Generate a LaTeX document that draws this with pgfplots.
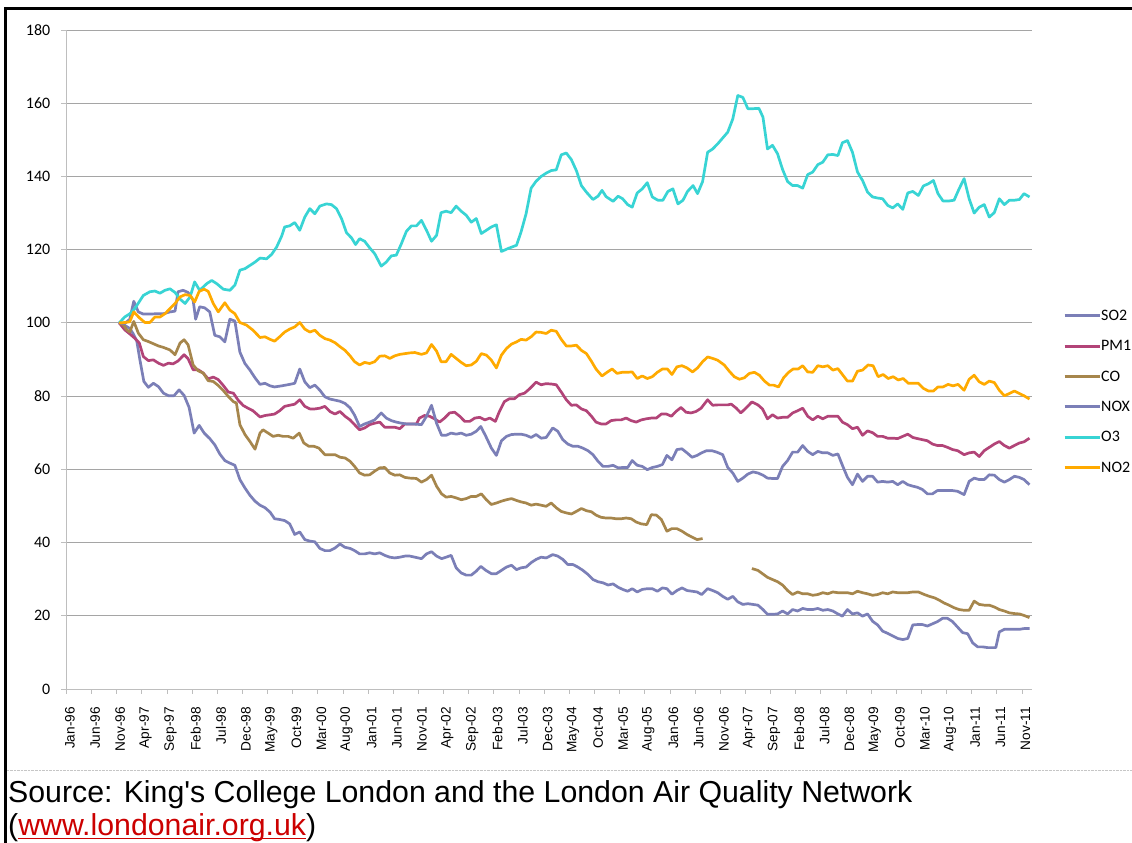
\documentclass[border=0pt]{standalone}
\usepackage{fontspec}
\setmainfont{Carlito}
\newfontfamily\arialfont{Liberation Sans}
\usepackage{pgfplots}
\pgfplotsset{compat=1.18}
\definecolor{cSO}{RGB}{123,127,183}
\definecolor{cPM}{RGB}{178,68,120}
\definecolor{cCO}{RGB}{166,134,76}
\definecolor{cO3}{RGB}{56,212,212}
\definecolor{cNO}{RGB}{255,170,0}
\definecolor{gridc}{RGB}{165,165,165}
\definecolor{axc}{RGB}{190,190,190}
\definecolor{linkred}{RGB}{204,0,0}
\begin{document}
\begin{tikzpicture}[x=1bp,y=1bp]
\useasboundingbox (0,0) rectangle (1132,843);
\fill[white] (0,0) rectangle (1132,843);
\draw[line width=3bp] (5.3,0) -- (5.3,834.3) -- (1132,834.3);
\draw[gray!45, densely dotted] (6.8,73) -- (1132,73);
\begin{axis}[
  scale only axis, width=965.6bp, height=659bp,
  at={(66.4bp,154bp)}, anchor=south west,
  xmin=0, xmax=192, ymin=0, ymax=180,
  axis x line*=bottom, axis y line*=left,
  axis line style={draw=axc, line width=0.8bp},
  tick align=outside, major tick length=5bp,
  tick style={draw=axc, line width=0.8bp},
  ymajorgrids, grid style={draw=gridc, line width=0.8bp},
  ytick={0,20,...,180},
  xtick={0,5,...,190},
  xticklabels={Jan-96,Jun-96,Nov-96,Apr-97,Sep-97,Feb-98,Jul-98,Dec-98,May-99,Oct-99,Mar-00,Aug-00,Jan-01,Jun-01,Nov-01,Apr-02,Sep-02,Feb-03,Jul-03,Dec-03,May-04,Oct-04,Mar-05,Aug-05,Jan-06,Jun-06,Nov-06,Apr-07,Sep-07,Feb-08,Jul-08,Dec-08,May-09,Oct-09,Mar-10,Aug-10,Jan-11,Jun-11,Nov-11},
  /pgf/number format/assume math mode=true,
  yticklabel style={font=\fontsize{16}{16}\selectfont, inner sep=0pt, anchor=east, xshift=-11bp},
  xticklabel style={font=\arialfont\fontsize{13.7}{14}\selectfont, rotate=90, anchor=east, inner sep=0pt, xshift=-13bp, yshift=-3.6bp},
  unbounded coords=jump,
  every axis plot/.append style={line width=2.7bp, line join=round},
  legend image code/.code={\draw[#1, line width=3bp] (0bp,0bp) -- (35bp,0bp);},
  legend cell align=left,
  legend style={at={(1.0321,0.5766)}, anchor=north west, draw=none, fill=none,
    font=\fontsize{16}{16}\selectfont, row sep=17.4bp, inner sep=0pt,
    nodes={inner sep=0pt, text height=11bp, text depth=2bp},
    /tikz/every even column/.append style={column sep=3bp}},
  clip=false,
]
% SO2
\addplot[cSO] coordinates {(10.5,100) (11.6,99.3) (12.6,98.5) (13.3,97) (14.0,95) (14.6,90) (15.4,84.0) (16.3,82.4) (17.3,83.5) (18.3,82.6) (19.3,80.8) (20.3,80.1) (21.4,80.1) (22.4,81.7) (23.4,80.2) (24.4,76.9) (25.4,69.9) (26.4,72.0) (27.4,69.9) (28.5,68.4) (29.5,66.7) (30.5,64.2) (31.5,62.4) (32.5,61.7) (33.5,61.1) (34.5,57.2) (35.5,54.9) (36.5,52.9) (37.5,51.3) (38.5,50.2) (39.5,49.5) (40.5,48.3) (41.4,46.5) (42.4,46.3) (43.4,46.0) (44.4,45.1) (45.4,42.2) (46.4,42.9) (47.4,40.8) (48.4,40.4) (49.4,40.2) (50.4,38.4) (51.4,37.8) (52.4,37.8) (53.4,38.5) (54.4,39.6) (55.4,38.7) (56.4,38.4) (57.3,37.8) (58.3,36.9) (59.3,36.9) (60.3,37.2) (61.3,36.9) (62.3,37.2) (63.3,36.5) (64.3,36.0) (65.3,35.8) (66.3,36.0) (67.3,36.3) (68.3,36.3) (69.3,36.0) (70.6,35.6) (71.6,36.9) (72.6,37.5) (73.6,36.3) (74.6,35.6) (75.5,36.0) (76.5,36.5) (77.5,33.1) (78.5,31.7) (79.5,31.1) (80.5,31.1) (81.5,32.2) (82.4,33.5) (83.4,32.4) (84.5,31.5) (85.5,31.5) (86.5,32.4) (87.5,33.3) (88.5,33.8) (89.5,32.6) (90.4,33.1) (91.4,33.3) (92.4,34.5) (93.4,35.4) (94.4,36.0) (95.4,35.8) (96.7,36.7) (97.7,36.3) (98.7,35.4) (99.7,34.0) (100.7,34.0) (101.7,33.3) (102.7,32.4) (103.7,31.3) (104.7,29.9) (105.7,29.3) (106.7,29.0) (107.7,28.4) (108.7,28.7) (109.7,27.8) (110.6,27.2) (111.6,26.7) (112.5,27.4) (113.5,26.5) (114.5,27.2) (115.5,27.4) (116.5,27.4) (117.5,26.7) (118.5,27.6) (119.4,27.4) (120.4,25.9) (121.4,26.9) (122.4,27.6) (123.4,26.9) (124.4,26.7) (125.4,26.5) (126.3,25.8) (127.5,27.4) (128.5,26.9) (129.5,26.3) (130.5,25.3) (131.5,24.5) (132.5,25.3) (133.5,23.8) (134.5,23.1) (135.5,23.3) (136.5,23.1) (137.5,22.9) (138.5,21.7) (139.4,20.4) (140.4,20.4) (141.4,20.5) (142.4,21.3) (143.4,20.5) (144.4,21.7) (145.4,21.3) (146.4,22.0) (147.4,21.7) (148.4,21.7) (149.4,22.0) (150.4,21.5) (151.4,21.7) (152.4,21.3) (153.4,20.5) (154.3,19.9) (155.3,21.7) (156.3,20.5) (157.3,20.8) (158.3,19.9) (159.3,20.5) (160.3,18.5) (161.3,17.5) (162.3,15.8) (163.3,15.2) (164.3,14.5) (165.3,13.8) (166.3,13.5) (167.3,13.8) (168.3,17.5) (169.2,17.6) (170.2,17.6) (171.2,17.2) (172.2,17.8) (173.2,18.4) (174.2,19.3) (175.2,19.3) (176.2,18.4) (177.2,16.9) (178.2,15.4) (179.2,15.1) (180.2,12.6) (181.2,11.5) (182.2,11.5) (183.2,11.3) (184.2,11.3) (184.8,11.3) (185.5,15.6) (186.5,16.3) (187.5,16.3) (188.5,16.3) (189.5,16.3) (190.4,16.5) (191.5,16.5)};
% PM1
\addplot[cPM] coordinates {(10.5,100) (11.6,98.1) (12.6,97.0) (13.6,95.8) (14.5,94.5) (15.3,90.8) (16.3,89.7) (17.3,89.9) (18.3,89.0) (19.3,88.4) (20.3,89.0) (21.2,88.8) (22.2,89.6) (23.4,91.3) (24.2,90.2) (25.2,87.2) (26.2,87.2) (27.2,86.3) (28.2,84.7) (29.2,85.2) (30.2,84.5) (31.2,82.9) (32.2,81.1) (33.2,80.8) (34.2,78.8) (35.2,77.4) (36.1,76.7) (37.1,76.0) (38.5,74.3) (39.5,74.7) (40.5,74.9) (41.4,75.1) (42.4,76.0) (43.4,77.2) (44.4,77.5) (45.4,77.8) (46.4,79.0) (47.4,77.2) (48.4,76.5) (49.4,76.5) (50.4,76.7) (51.4,77.2) (52.4,75.8) (53.4,75.1) (54.4,75.8) (55.4,74.5) (56.4,73.5) (57.3,72.2) (58.3,70.8) (59.3,71.3) (60.3,72.2) (61.3,72.6) (62.3,72.9) (63.3,71.5) (64.3,71.5) (65.3,71.5) (66.3,71.1) (67.3,72.4) (68.3,72.4) (69.6,72.4) (70.2,74.0) (71.2,74.7) (72.2,74.5) (73.2,73.8) (74.2,72.9) (75.2,74.0) (76.2,75.4) (77.2,75.6) (78.2,74.5) (79.2,73.1) (80.2,73.1) (81.2,74.0) (82.2,74.2) (83.2,73.5) (84.2,74.0) (85.3,73.1) (86.1,75.8) (87.1,78.5) (88.1,79.3) (89.1,79.3) (90.1,80.4) (91.1,80.8) (92.1,82.0) (93.4,83.8) (94.4,83.1) (95.4,83.4) (96.4,83.3) (97.4,83.1) (98.4,81.1) (99.4,79.0) (100.4,77.5) (101.4,77.6) (102.4,76.5) (103.4,76.0) (104.4,74.5) (105.3,72.9) (106.3,72.4) (107.3,72.4) (108.3,73.3) (109.3,73.5) (110.3,73.5) (111.3,74.0) (112.3,73.3) (113.3,72.9) (114.3,73.5) (115.3,73.8) (116.3,74.0) (117.3,74.0) (118.3,75.1) (119.3,75.1) (120.3,74.5) (121.2,75.8) (122.2,76.9) (123.2,75.6) (124.2,75.4) (125.2,75.8) (126.2,76.7) (127.5,79.0) (128.5,77.5) (129.5,77.6) (130.5,77.6) (131.5,77.6) (132.2,77.8) (133.2,76.7) (134.1,75.4) (135.1,76.7) (136.3,78.4) (137.5,77.6) (138.4,76.5) (139.4,73.8) (140.4,74.9) (141.4,74.0) (142.4,74.2) (143.4,74.2) (144.4,75.4) (145.4,76.0) (146.4,76.7) (147.4,74.5) (148.4,73.5) (149.4,74.5) (150.4,73.8) (151.4,74.5) (152.4,74.5) (153.4,74.5) (154.3,72.9) (155.3,72.2) (156.3,71.1) (157.3,71.5) (158.3,69.3) (159.3,70.5) (160.3,70.0) (161.3,69.0) (162.3,69.0) (163.3,68.5) (164.3,68.5) (165.3,68.4) (166.3,69.0) (167.3,69.6) (168.3,68.7) (169.2,68.4) (170.2,68.1) (171.2,67.8) (172.2,66.9) (173.2,66.5) (174.2,66.5) (175.2,66.0) (176.2,65.4) (177.2,65.1) (178.5,64.0) (179.5,64.5) (180.5,64.7) (181.5,63.5) (182.5,65.1) (183.5,66.0) (184.5,66.9) (185.5,67.6) (186.5,66.5) (187.5,65.8) (188.5,66.5) (189.5,67.2) (190.4,67.5) (191.5,68.5)};
% CO
\addplot[cCO] coordinates {(10.5,100) (11.3,99.5) (12.0,98.1) (12.6,97.5) (13.4,100.4) (14.3,97.2) (15.3,95.4) (16.3,94.9) (17.3,94.3) (18.3,93.7) (19.3,93.3) (20.6,92.6) (21.6,91.3) (22.6,94.5) (23.4,95.4) (24.2,94.0) (25.2,88.5) (26.2,86.9) (27.2,86.3) (28.2,84.2) (29.2,84.0) (30.2,82.9) (31.2,81.5) (32.2,79.9) (33.2,78.5) (33.8,78.1) (34.5,72.2) (35.5,69.5) (36.5,67.6) (37.5,65.5) (38.5,69.9) (39.1,70.8) (40.1,69.9) (41.1,69.0) (42.1,69.3) (43.1,69.0) (44.1,69.0) (45.1,68.5) (46.3,69.9) (47.2,67.2) (48.2,66.3) (49.2,66.3) (50.2,65.8) (51.4,64.0) (52.4,64.0) (53.4,64.0) (54.4,63.3) (55.4,63.1) (56.4,62.2) (57.3,60.8) (58.3,59.0) (59.3,58.4) (60.3,58.5) (61.3,59.5) (62.3,60.4) (63.3,60.5) (64.3,59.0) (65.3,58.4) (66.3,58.5) (67.3,57.8) (68.3,57.6) (69.6,57.5) (70.6,56.5) (71.6,57.2) (72.6,58.4) (73.6,55.4) (74.6,53.3) (75.5,52.4) (76.5,52.6) (77.5,52.2) (78.5,51.7) (79.5,52.0) (80.5,52.6) (81.5,52.6) (82.5,53.3) (83.5,51.7) (84.5,50.4) (85.5,50.8) (86.5,51.3) (87.5,51.7) (88.5,52.0) (89.5,51.5) (90.4,51.1) (91.4,50.8) (92.4,50.2) (93.4,50.5) (94.4,50.2) (95.4,49.9) (96.4,50.8) (97.4,49.5) (98.4,48.5) (99.4,48.1) (100.4,47.8) (101.4,48.5) (102.4,49.3) (103.4,48.7) (104.4,48.4) (105.3,47.5) (106.3,46.9) (107.3,46.7) (108.3,46.7) (109.3,46.5) (110.3,46.5) (111.3,46.7) (112.3,46.5) (113.3,45.6) (114.3,45.1) (115.4,44.9) (116.3,47.6) (117.3,47.5) (118.3,46.3) (119.4,43.1) (120.4,43.8) (121.4,43.8) (122.4,43.1) (123.4,42.2) (124.4,41.5) (125.4,40.8) (126.5,41.1) (131,nan) (136.3,32.9) (137.5,32.4) (138.4,31.5) (139.4,30.5) (140.4,29.9) (141.4,29.3) (142.4,28.4) (143.4,26.9) (144.4,25.8) (145.4,26.5) (146.4,26.0) (147.4,26.0) (148.4,25.6) (149.4,25.8) (150.4,26.3) (151.4,26.0) (152.4,26.5) (153.4,26.3) (154.3,26.3) (155.3,26.3) (156.3,26.0) (157.3,26.7) (158.3,26.3) (159.3,26.0) (160.3,25.6) (161.3,25.8) (162.3,26.3) (163.3,26.0) (164.3,26.5) (165.3,26.3) (166.3,26.3) (167.3,26.3) (168.3,26.5) (169.4,26.5) (170.6,25.8) (171.6,25.3) (172.6,24.9) (173.5,24.3) (174.5,23.5) (175.5,22.9) (176.5,22.2) (177.5,21.7) (178.5,21.5) (179.5,21.5) (180.5,24.0) (181.5,23.1) (182.5,22.9) (183.5,22.9) (184.5,22.4) (185.5,21.7) (186.5,21.3) (187.5,20.8) (188.5,20.6) (189.5,20.5) (190.4,20.1) (191.5,19.5)};
% NOX
\addplot[cSO] coordinates {(10.5,100) (11.6,99.8) (12.6,101) (13.4,105.9) (14.3,103.0) (15.3,102.4) (16.6,102.4) (17.9,102.5) (19.3,102.5) (20.6,103.0) (21.6,103.2) (22.2,108.5) (23.2,108.9) (24.2,108.3) (25.2,106.2) (25.7,101.0) (26.5,104.4) (27.5,104.1) (28.5,103.0) (29.5,96.6) (30.5,96.2) (31.5,94.8) (32.5,101.0) (33.5,100.5) (34.5,92.0) (35.5,88.9) (36.5,87.1) (37.5,85.0) (38.5,83.2) (39.5,83.5) (40.5,82.8) (41.4,82.5) (42.8,82.8) (44.4,83.2) (45.4,83.5) (46.4,87.4) (47.4,83.9) (48.4,82.3) (49.4,83.0) (50.4,81.6) (51.4,79.8) (52.4,79.2) (53.4,78.9) (54.4,78.6) (55.4,78.0) (56.4,76.8) (57.3,74.8) (58.3,71.7) (59.3,72.4) (60.3,72.9) (61.3,73.5) (62.6,75.4) (63.6,74.0) (64.6,73.3) (65.6,72.9) (66.6,72.6) (67.6,72.4) (68.9,72.4) (70.6,72.2) (71.6,74.5) (72.6,77.5) (73.6,72.6) (74.6,69.3) (75.5,69.3) (76.5,69.9) (77.5,69.6) (78.5,69.9) (79.5,69.3) (80.5,69.6) (81.5,70.4) (82.4,71.7) (83.4,69.0) (84.5,65.8) (85.5,63.8) (86.5,67.8) (87.5,69.0) (88.5,69.5) (89.5,69.6) (90.4,69.6) (91.4,69.3) (92.4,68.7) (93.4,69.5) (94.4,68.5) (95.4,68.7) (96.7,71.3) (97.7,70.4) (98.7,68.1) (99.7,66.9) (100.7,66.3) (101.7,66.3) (102.7,65.8) (103.7,65.1) (104.7,64.0) (105.7,62.2) (106.7,60.8) (107.7,60.8) (108.7,61.1) (109.7,60.4) (110.6,60.5) (111.6,60.5) (112.5,62.4) (113.5,61.1) (114.5,60.8) (115.5,59.9) (116.5,60.5) (117.5,60.8) (118.5,61.3) (119.4,63.8) (120.4,62.6) (121.4,65.4) (122.4,65.6) (123.4,64.5) (124.4,63.3) (125.4,63.8) (126.3,64.5) (127.3,65.1) (128.3,65.1) (129.3,64.7) (130.5,64.0) (131.5,60.5) (132.5,59.0) (133.5,56.7) (134.5,57.6) (135.5,58.7) (136.5,59.3) (137.5,59.0) (138.5,58.4) (139.4,57.6) (140.4,57.5) (141.4,57.5) (142.4,60.8) (143.4,62.4) (144.4,64.7) (145.4,64.7) (146.4,66.5) (147.4,64.9) (148.4,64.0) (149.4,64.9) (150.4,64.5) (151.4,64.5) (152.4,63.8) (153.4,64.2) (154.3,61.1) (155.3,57.8) (156.3,55.8) (157.3,58.7) (158.3,56.7) (159.3,58.1) (160.3,58.1) (161.3,56.5) (162.3,56.7) (163.3,56.5) (164.3,56.7) (165.3,55.8) (166.3,56.7) (167.3,55.8) (168.3,55.4) (169.2,55.1) (170.2,54.5) (171.2,53.3) (172.2,53.3) (173.2,54.2) (174.2,54.2) (175.2,54.2) (176.2,54.2) (177.2,54.0) (178.5,53.1) (179.5,56.7) (180.5,57.6) (181.5,57.2) (182.5,57.2) (183.5,58.5) (184.5,58.4) (185.5,57.2) (186.5,56.5) (187.5,57.2) (188.5,58.1) (189.5,57.8) (190.4,57.2) (191.5,55.8)};
% O3
\addplot[cO3] coordinates {(10.5,100) (11.6,101.6) (12.6,102.5) (13.6,103.9) (15.3,107.5) (16.6,108.5) (17.6,108.7) (18.6,108.1) (19.6,108.9) (20.6,109.3) (21.6,108.3) (22.6,106.5) (23.6,105.3) (24.6,107.1) (25.5,111.2) (26.5,108.9) (27.9,110.7) (28.9,111.6) (29.9,110.7) (31.2,109.2) (32.5,108.9) (33.5,110.3) (34.5,114.4) (35.5,114.8) (36.5,115.7) (37.5,116.6) (38.5,117.7) (39.8,117.5) (40.8,118.7) (41.8,120.7) (42.8,123.7) (43.4,126.2) (44.4,126.5) (45.4,127.4) (46.4,125.3) (47.4,128.9) (48.4,131.2) (49.4,129.8) (50.4,131.9) (51.7,132.5) (52.7,132.3) (53.7,131.2) (54.7,128.5) (55.7,124.6) (56.7,123.2) (57.5,121.4) (58.3,123.0) (59.3,122.3) (60.3,120.5) (61.3,118.9) (62.6,115.5) (63.6,116.6) (64.6,118.3) (65.6,118.5) (66.6,121.6) (67.6,125.0) (68.6,126.5) (69.6,126.5) (70.6,128.0) (71.6,125.3) (72.6,122.3) (73.6,123.9) (74.5,130.1) (75.5,130.5) (76.5,130.1) (77.5,131.9) (78.5,130.5) (79.5,129.4) (80.5,127.5) (81.5,128.5) (82.5,124.4) (83.5,125.3) (84.5,126.2) (85.5,126.8) (86.5,119.5) (87.8,120.3) (89.5,121.2) (90.4,124.8) (91.4,129.8) (92.4,136.8) (93.4,138.7) (94.4,140.0) (95.4,140.9) (96.4,141.6) (97.4,141.8) (98.4,145.9) (99.4,146.4) (100.4,144.6) (101.4,141.6) (102.4,137.5) (103.4,135.7) (104.7,133.7) (105.7,134.6) (106.5,136.2) (107.3,134.5) (108.7,133.2) (109.7,134.6) (110.6,133.9) (111.6,132.3) (112.5,131.6) (113.5,135.5) (114.5,136.6) (115.5,138.3) (116.5,134.4) (117.6,133.5) (118.6,133.5) (119.6,135.9) (120.6,136.6) (121.6,132.5) (122.6,133.5) (123.5,135.9) (124.6,137.5) (125.5,135.3) (126.5,138.6) (127.5,146.6) (128.5,147.5) (129.5,148.9) (130.5,150.5) (131.5,152.1) (132.5,155.7) (133.5,162.1) (134.5,161.6) (135.5,158.5) (136.5,158.5) (137.7,158.6) (138.5,156.2) (139.4,147.5) (140.4,148.5) (141.4,146.2) (142.4,141.9) (143.4,138.6) (144.4,137.5) (145.4,137.5) (146.4,136.8) (147.4,140.5) (148.4,141.2) (149.4,143.2) (150.4,143.9) (151.4,145.9) (152.4,146.0) (153.4,145.7) (154.3,149.2) (155.3,149.8) (156.3,146.6) (157.3,141.2) (158.3,138.9) (159.3,135.7) (160.3,134.4) (161.3,134.1) (162.3,133.9) (163.3,132.1) (164.3,131.4) (165.3,132.5) (166.3,131.0) (167.3,135.5) (168.3,135.9) (169.4,134.8) (170.4,137.4) (171.4,138.0) (172.4,138.9) (173.3,135.3) (174.3,133.3) (175.5,133.3) (176.5,133.5) (177.5,136.6) (178.5,139.4) (179.5,133.9) (180.5,130.0) (181.5,131.6) (182.5,132.3) (183.5,128.9) (184.5,130.1) (185.5,133.9) (186.5,132.3) (187.5,133.5) (188.5,133.5) (189.5,133.7) (190.4,135.3) (191.5,134.4)};
% NO2
\addplot[cNO] coordinates {(10.5,100) (11.6,100.1) (12.6,100.3) (13.4,103.0) (14.5,101.4) (15.6,100.1) (16.6,100.1) (17.6,101.6) (18.6,101.6) (19.6,102.5) (20.6,103.9) (21.6,105.3) (22.6,107.1) (23.6,107.7) (24.6,107.5) (25.5,105.7) (26.4,108.6) (27.4,109.2) (28.2,108.6) (29.2,105.3) (30.2,103.0) (31.5,105.5) (32.5,103.5) (33.5,102.5) (34.5,100.1) (35.8,99.4) (37.1,98.0) (38.5,96.0) (39.5,96.2) (40.5,95.5) (41.4,95.0) (42.4,96.2) (43.4,97.5) (44.4,98.3) (45.4,98.9) (46.4,100.1) (47.4,98.3) (48.4,97.5) (49.4,98.0) (50.4,96.6) (51.4,95.7) (52.4,95.3) (53.4,94.6) (54.4,93.5) (55.4,92.5) (56.4,91.0) (57.3,89.4) (58.3,88.5) (59.3,89.2) (60.3,88.9) (61.3,89.4) (62.3,90.9) (63.3,91.0) (64.3,90.3) (65.3,91.0) (66.3,91.4) (67.3,91.6) (68.3,91.8) (69.3,91.9) (70.6,91.4) (71.6,91.8) (72.6,94.1) (73.6,92.3) (74.5,89.4) (75.5,89.4) (76.5,91.4) (77.5,90.3) (78.5,89.2) (79.5,88.3) (80.5,88.5) (81.5,89.5) (82.5,91.6) (83.5,91.2) (84.5,89.8) (85.5,87.7) (86.5,91.2) (87.5,93.0) (88.5,94.2) (89.5,94.8) (90.4,95.5) (91.4,95.3) (92.4,96.2) (93.4,97.5) (94.4,97.4) (95.4,97.1) (96.4,98.0) (97.4,97.7) (98.4,95.5) (99.4,93.7) (100.4,93.7) (101.4,93.9) (102.4,92.5) (103.4,91.6) (104.4,89.5) (105.3,87.4) (106.5,85.5) (107.5,86.5) (108.5,87.4) (109.5,86.2) (110.5,86.5) (111.5,86.5) (112.5,86.6) (113.5,84.8) (114.5,85.5) (115.5,84.8) (116.5,85.3) (117.5,86.5) (118.5,87.4) (119.5,87.4) (120.4,85.9) (121.4,88.0) (122.4,88.3) (123.4,87.7) (124.5,86.6) (125.5,87.7) (126.5,89.4) (127.5,90.7) (128.5,90.3) (129.5,89.8) (130.8,88.5) (131.8,86.8) (132.8,85.3) (133.8,84.6) (134.8,85.0) (135.8,86.2) (136.8,86.5) (137.8,85.7) (138.8,84.1) (139.8,83.0) (140.6,83.0) (141.6,82.5) (142.6,85.0) (143.6,86.5) (144.5,87.4) (145.5,87.4) (146.4,88.3) (147.4,86.6) (148.4,86.5) (149.4,88.3) (150.4,88.0) (151.4,88.3) (152.4,87.1) (153.4,87.5) (154.3,85.9) (155.3,84.1) (156.3,84.1) (157.3,86.8) (158.3,87.1) (159.4,88.5) (160.4,88.3) (161.4,85.3) (162.4,85.9) (163.4,84.8) (164.4,85.3) (165.4,84.4) (166.4,84.8) (167.4,83.5) (168.4,83.5) (169.4,83.5) (170.4,82.1) (171.4,81.4) (172.4,81.4) (173.3,82.5) (174.3,82.5) (175.3,83.2) (176.3,82.8) (177.3,83.2) (178.5,81.6) (179.5,84.6) (180.5,85.7) (181.5,83.9) (182.5,83.2) (183.5,84.1) (184.5,83.7) (185.5,81.6) (186.5,80.1) (187.5,80.7) (188.5,81.4) (189.5,80.7) (190.4,80.1) (191.5,79.2)};
\legend{SO2,PM1,CO,NOX,O3,NO2}
\end{axis}
\node[anchor=base west, inner sep=0pt, font=\arialfont\fontsize{30.4}{30.4}\selectfont] at (8,40) {Source: King's College London and the London Air Quality Network};
\node[anchor=base west, inner sep=0pt, font=\arialfont\fontsize{30.4}{30.4}\selectfont] at (8,7) {(\textcolor{linkred}{\setbox0=\hbox{www.londonair.org.uk}\rlap{\copy0}\rule[-3.5bp]{\wd0}{1.6bp}})};
\end{tikzpicture}
\end{document}
